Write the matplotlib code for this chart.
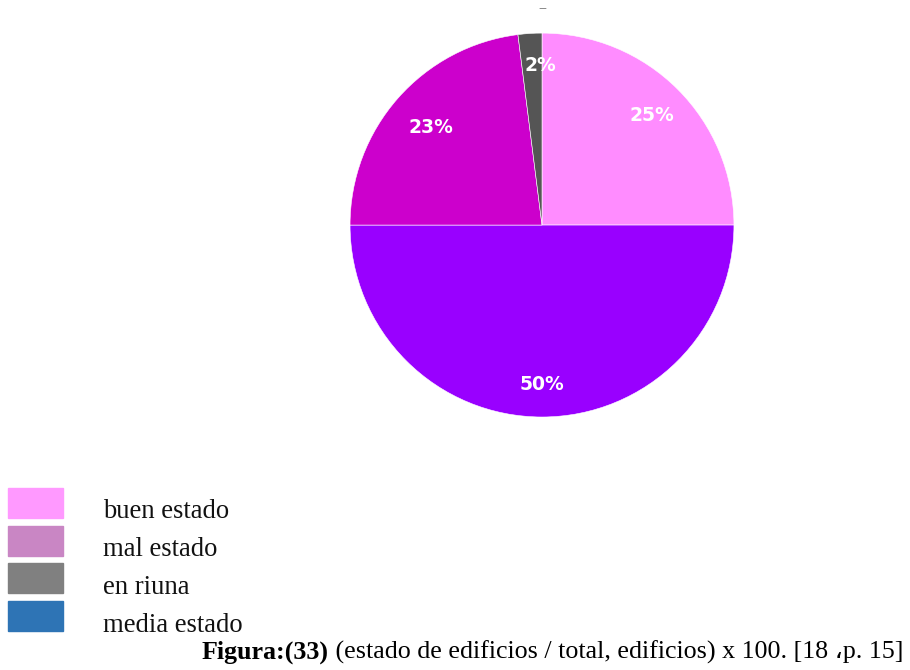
import matplotlib
matplotlib.use("Agg")
import matplotlib.pyplot as plt
from matplotlib.patches import Rectangle

# pie slices, clockwise from the top
slice_values = [25, 50, 23, 2]
slice_colors = ["#ff8cff", "#9900ff", "#cc00cc", "#555555"]

# legend (colours as they appear in the source legend)
legend_labels = ["buen estado", "mal estado", "en riuna", "media estado"]
legend_colors = ["#ff99ff", "#c986c4", "#808080", "#2e74b5"]

caption_bold = "Figura:(33)"
caption_rest = " (estado de edificios / total, edificios) x 100. [18 \u060cp. 15]"

fig = plt.figure(figsize=(9.1, 6.7), dpi=100)

ax = fig.add_axes([0.3846, 0.3776, 0.422, 0.573])
wedges, texts, autotexts = ax.pie(
    slice_values, colors=slice_colors, startangle=90, counterclock=False,
    autopct="%d%%", pctdistance=0.81,
    wedgeprops=dict(edgecolor="white", linewidth=0.4),
    textprops=dict(color="white", fontsize=13.5, fontweight="bold",
                   family="DejaVu Sans"))
# nudge labels a bit to match the source
autotexts[0].set_position((0.57, 0.57))
autotexts[1].set_position((0.0, -0.83))
autotexts[2].set_position((-0.58, 0.51))
autotexts[3].set_position((-0.01, 0.83))
ax.set_xlim(-1, 1)
ax.set_ylim(-1, 1)
ax.set_aspect("equal")
ax.axis("off")
ax.text(0, 1.13, "\u2012", ha="center", va="center", color="#888888", fontsize=9)

# legend drawn by hand
sw_w, sw_h = 55 / 910, 30 / 670
for i, (lab, col) in enumerate(zip(legend_labels, legend_colors)):
    top = 1 - (488 + i * 37.7) / 670
    fig.patches.append(Rectangle((8 / 910, top - sw_h), sw_w, sw_h,
                                 transform=fig.transFigure, color=col))
    fig.text(103 / 910, 1 - (512 + i * 37.7) / 670, lab, ha="left", va="center",
             fontsize=19.2, family="Liberation Serif", color="#111111")

# caption: bold prefix then regular text
fam = ["Liberation Serif", "DejaVu Sans"]
t1 = fig.text(202 / 910, 1 - 652 / 670, caption_bold, ha="left", va="center",
              fontsize=18.7, fontweight="bold", family=fam)
fig.canvas.draw()
bb = t1.get_window_extent()
fig.text(bb.x1 / fig.bbox.width, 1 - 652 / 670, caption_rest, ha="left",
         va="center", fontsize=18.7, family=fam)

fig.savefig("out.png", dpi=100)
